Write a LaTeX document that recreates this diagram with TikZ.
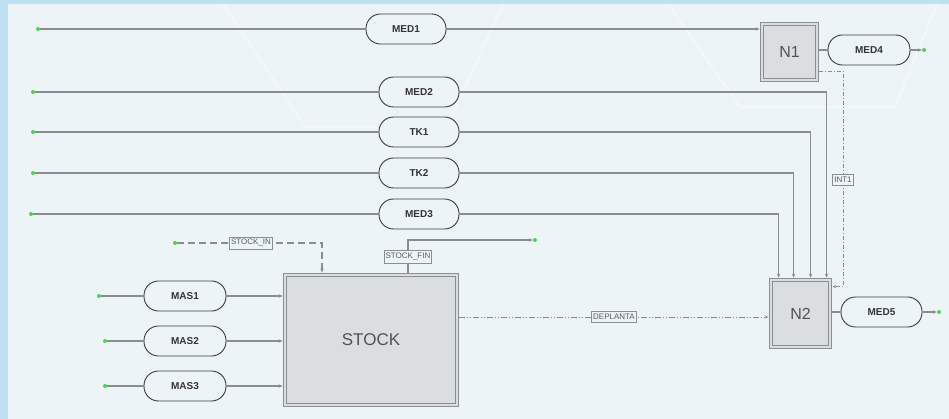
\documentclass[tikz,border=0pt]{standalone}
\usepackage{fontspec}
\setmainfont{Liberation Sans}
\usetikzlibrary{arrows.meta,calc}

\definecolor{frame}{HTML}{BFE0F1}
\definecolor{panel}{HTML}{EDF4F8}
\definecolor{wire}{HTML}{8A8D90}
\definecolor{pillline}{HTML}{3C3C3C}
\definecolor{boxfill}{HTML}{DADEE1}
\definecolor{boxline}{HTML}{8C8F92}
\definecolor{port}{HTML}{45D94F}
\definecolor{ink}{HTML}{333333}

\tikzset{
  meter/.style={draw=pillline, line width=0.9pt, fill=panel, rounded corners=14.5pt,
    minimum width=80pt, minimum height=30pt, inner sep=0pt,
    font=\fontsize{10}{12}\selectfont\bfseries, text=ink},
  unit/.style={draw=boxline, line width=0.8pt, double=boxfill, double distance=2pt,
    fill=boxfill, inner sep=0pt, text=ink!85},
  tag/.style={solid, draw=boxline, line width=0.8pt, fill=panel, inner xsep=1.5pt, inner ysep=2.5pt,
    font=\fontsize{8}{9}\selectfont, text=ink!80},
  wire/.style={draw=wire, line width=1.1pt},
  feed/.style={wire, -{Stealth[length=4pt,width=3.5pt]}},
  src/.style={circle, fill=port, inner sep=0pt, minimum size=4pt},
  inflow/.style={wire, dash pattern=on 7pt off 4pt, -{Stealth[length=4pt,width=3.5pt]}},
  plantflow/.style={wire, line width=0.9pt, dash pattern=on 6pt off 2pt on 1pt off 2pt on 1pt off 2pt,
    -{Stealth[length=4pt,width=3.5pt,open]}},
  intflow/.style={wire, line width=0.9pt, dash pattern=on 4pt off 2pt on 1pt off 2pt,
    -{Stealth[length=4pt,width=3.5pt,open]}},
}

\begin{document}
\begin{tikzpicture}[x=1pt,y=-1pt]
  % canvas
  \useasboundingbox (0,0) rectangle (949,419);
  \fill[frame] (0,0) rectangle (949,419);
  \fill[panel] (8,4) rectangle (949,419);
  % faint hexagon decoration
  \draw[white, opacity=0.35, line width=1.8pt] (223,4) -- (305,127) -- (447,127) -- (503,4);
  \draw[white, opacity=0.35, line width=1.8pt] (668,4) -- (740,107) -- (895,107) -- (937,4);

  % meters
  \node[meter] (med1) at (406,29)  {MED1};
  \node[meter] (med2) at (419,92)  {MED2};
  \node[meter] (tk1)  at (419,132) {TK1};
  \node[meter] (tk2)  at (419,173) {TK2};
  \node[meter] (med3) at (419,214) {MED3};
  \node[meter, minimum width=82pt] (med4) at (869,50)  {MED4};
  \node[meter, minimum width=81pt] (med5) at (881.5,312) {MED5};
  \node[meter, minimum width=82pt] (mas1) at (185,296) {MAS1};
  \node[meter, minimum width=82pt] (mas2) at (185,341) {MAS2};
  \node[meter, minimum width=82pt] (mas3) at (185,386) {MAS3};

  % process units
  \node[unit, minimum width=55.4pt, minimum height=56.4pt, font=\fontsize{16}{18}\selectfont] (n1) at (789.5,52) {N1};
  \node[unit, minimum width=59.4pt, minimum height=67.4pt, font=\fontsize{16}{18}\selectfont] (n2) at (800.5,313.5) {N2};
  \node[unit, minimum width=172.4pt, minimum height=130.4pt, font=\fontsize{17}{20}\selectfont] (stock) at (371,340) {STOCK};

  % sources and sinks
  \node[src] (s1) at (38,29) {};
  \node[src] (s2) at (33,92) {};
  \node[src] (s3) at (33,132) {};
  \node[src] (s4) at (33,173) {};
  \node[src] (s5) at (31,214) {};
  \node[src] (sm1) at (99,296) {};
  \node[src] (sm2) at (105,341) {};
  \node[src] (sm3) at (105,386) {};
  \node[src] (sin) at (175,243) {};
  \node[src] (o4) at (924,50) {};
  \node[src] (o5) at (939,312) {};
  \node[src] (ofin) at (535,240) {};

  % attachment points on the outer border of the units
  \coordinate (n1w)  at ([xshift=-1.8pt]n1.west);
  \coordinate (sw)   at ([xshift=-1.8pt]stock.west);
  \coordinate (n2w)  at ([xshift=-1.8pt]n2.west);
  \coordinate (n2a)  at ([xshift=8.2pt,yshift=1.8pt]n2.north west);
  \coordinate (n2b)  at ([xshift=23.2pt,yshift=1.8pt]n2.north west);
  \coordinate (n2c)  at ([xshift=40.2pt,yshift=1.8pt]n2.north west);
  \coordinate (n2d)  at ([xshift=56.2pt,yshift=1.8pt]n2.north west);
  \coordinate (n2i)  at ([xshift=1.8pt,yshift=-7.2pt]n2.north east);
  \coordinate (n1o)  at ([xshift=1.8pt,yshift=-19pt]n1.east);
  \coordinate (stin) at ([xshift=-49pt,yshift=1.8pt]stock.north);
  \coordinate (stout) at ([xshift=37pt,yshift=1.8pt]stock.north);
  \coordinate (dp0)  at ([xshift=1.8pt,yshift=23pt]stock.east);

  % main feeds
  \draw[wire] (s1) -- (med1);
  \draw[feed] (med1) -- (med1 -| n1w);
  \draw[wire] (s2) -- (med2);
  \draw[wire] (s3) -- (tk1);
  \draw[wire] (s4) -- (tk2);
  \draw[wire] (s5) -- (med3);
  \draw[feed] (med2.east) -| (n2d);
  \draw[feed] (tk1.east) -| (n2c);
  \draw[feed] (tk2.east) -| (n2b);
  \draw[feed] (med3.east) -| (n2a);

  % outputs
  \draw[wire] (n1.east |- med4) -- (med4);
  \draw[feed] (med4) -- (o4);
  \draw[wire] (n2.east |- med5) -- (med5);
  \draw[feed] (med5) -- (o5);

  % stock inputs
  \draw[wire] (sm1) -- (mas1);
  \draw[wire] (sm2) -- (mas2);
  \draw[wire] (sm3) -- (mas3);
  \draw[feed] (mas1) -- (mas1 -| sw);
  \draw[feed] (mas2) -- (mas2 -| sw);
  \draw[feed] (mas3) -- (mas3 -| sw);

  % stock in / out
  \draw[inflow] (sin) -| (stin) node[tag, pos=0.255] {STOCK\_IN};
  \draw[feed] (stout) |- (ofin) node[tag, pos=0.24] {STOCK\_FIN};

  % internal transfers
  \draw[plantflow] (dp0) -- (dp0 -| n2w) node[tag, midway] {DEPLANTA};
  \draw[intflow] (n1o) -| ([xshift=11pt]n2i) -- (n2i);
  \node[tag] (int1) at (843,180) {INT1};
\end{tikzpicture}
\end{document}
